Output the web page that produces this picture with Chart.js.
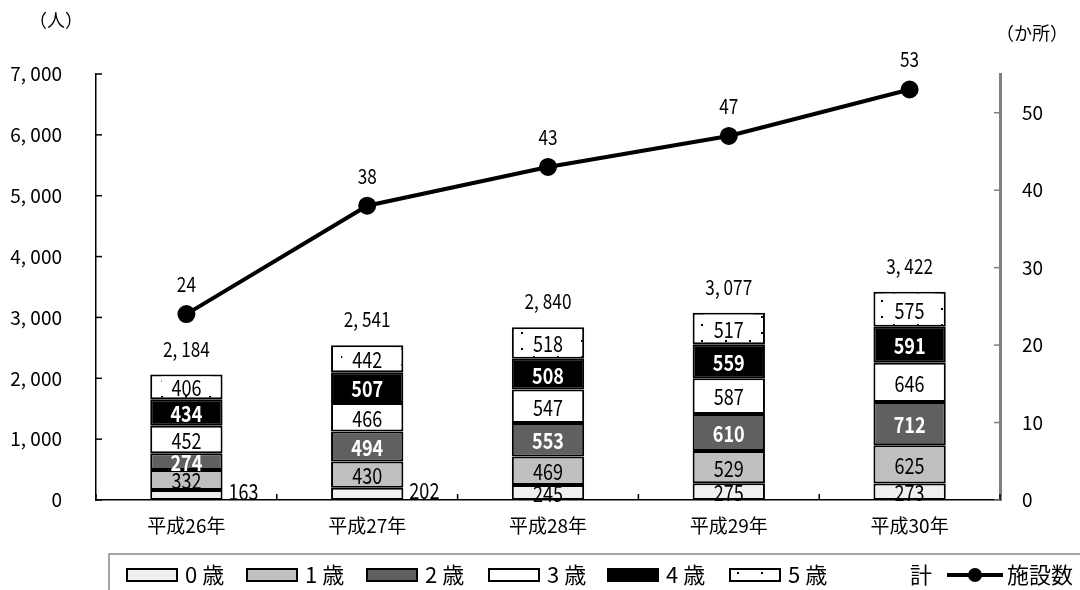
<!DOCTYPE html>
<html>
<head>
<meta charset="utf-8">
<script src="https://cdn.jsdelivr.net/npm/chart.js@4.4.1/dist/chart.umd.min.js"></script>
<style>
  html, body { margin: 0; padding: 0; background: #fff; }
  #wrap { width: 1080px; height: 590px; }
</style>
</head>
<body>
<div id="wrap"><canvas id="chart" width="1080" height="590"></canvas></div>
<script>
const years = ["平成26年", "平成27年", "平成28年", "平成29年", "平成30年"];
const age0 = [163, 202, 245, 275, 273];
const age1 = [332, 430, 469, 529, 625];
const age2 = [274, 494, 553, 610, 712];
const age3 = [452, 466, 547, 587, 646];
const age4 = [434, 507, 508, 559, 591];
const age5 = [406, 442, 518, 517, 575];
const totals = [2184, 2541, 2840, 3077, 3422];
const facilities = [24, 38, 43, 47, 53];

const numFont = "'Noto Sans CJK JP', sans-serif";
const jpFont = "'Noto Sans CJK JP', sans-serif";

// dotted fill for 5歳
function dotPattern() {
  const c = document.createElement("canvas");
  c.width = 24; c.height = 16;
  const g = c.getContext("2d");
  g.fillStyle = "#fff";
  g.fillRect(0, 0, 24, 16);
  g.fillStyle = "#000";
  g.fillRect(5, 4, 2, 2);
  g.fillRect(17, 12, 2, 2);
  return g.createPattern(c, "repeat");
}
const dots = dotPattern();

const fmt = (v) => v >= 1000 ? `${Math.floor(v / 1000)}, ${String(v % 1000).padStart(3, "0")}` : String(v);

// narrow digits like the original
function narrowText(ctx, txt, x, y, align) {
  ctx.save();
  ctx.translate(x, y);
  ctx.scale(0.82, 1);
  ctx.textAlign = align;
  ctx.fillText(txt, 0, 0);
  ctx.restore();
}

const barStyle = (label, data, fill) => ({
  type: "bar",
  label: label,
  data: data,
  backgroundColor: fill,
  borderColor: "#000",
  borderWidth: 2,
  borderSkipped: false,
  barPercentage: 0.8,
  categoryPercentage: 0.5,
  stack: "s",
  yAxisID: "y",
  order: 2,
});

const labelColors = [
  { color: "#000", bold: false },
  { color: "#000", bold: false },
  { color: "#fff", bold: true },
  { color: "#000", bold: false },
  { color: "#fff", bold: true },
  { color: "#000", bold: false },
];

const extras = {
  id: "extras",
  afterDatasetsDraw(chart) {
    const ctx = chart.ctx;
    const x = chart.scales.x, y = chart.scales.y, y2 = chart.scales.y2;
    const area = chart.chartArea;
    ctx.save();
    ctx.textBaseline = "middle";

    // segment labels
    for (let i = 0; i < 6; i++) {
      const meta = chart.getDatasetMeta(i);
      const ds = chart.data.datasets[i];
      meta.data.forEach((bar, j) => {
        const v = ds.data[j];
        const st = labelColors[i];
        ctx.font = (st.bold ? "bold " : "") + "22px " + numFont;
        const cy = (bar.y + bar.base) / 2 + 1;
        const txt = String(v);
        if (i === 0 && v < 220) {
          ctx.fillStyle = "#000";
          narrowText(ctx, txt, bar.x + bar.width / 2 + 6, cy - 4, "left");
          return;
        }
        if (i === 5) {
          const w = ctx.measureText(txt).width * 0.82 + 20;
          const h = bar.base - bar.y - 8;
          ctx.fillStyle = "#fff";
          ctx.fillRect(bar.x - w / 2, bar.y + 2, w, h);
        }
        ctx.fillStyle = st.color;
        narrowText(ctx, txt, bar.x, cy, "center");
      });
    }

    // totals above bars
    const top = chart.getDatasetMeta(5);
    ctx.font = "21px " + numFont;
    ctx.fillStyle = "#000";
    top.data.forEach((bar, j) => {
      narrowText(ctx, fmt(totals[j]), bar.x, bar.y - 26, "center");
    });

    // facility labels
    const lm = chart.getDatasetMeta(6);
    lm.data.forEach((pt, j) => {
      narrowText(ctx, String(facilities[j]), pt.x, pt.y - 30, "center");
    });

    // inward ticks
    ctx.lineWidth = 1.5;
    ctx.strokeStyle = "#000";
    y.ticks.forEach((t) => {
      const py = y.getPixelForValue(t.value);
      ctx.beginPath(); ctx.moveTo(area.left, py); ctx.lineTo(area.left + 6, py); ctx.stroke();
    });
    const step = x.getPixelForValue(1) - x.getPixelForValue(0);
    for (let k = 0; k <= years.length; k++) {
      const px = x.getPixelForValue(k) - step / 2;
      ctx.beginPath(); ctx.moveTo(px, area.bottom); ctx.lineTo(px, area.bottom - 6); ctx.stroke();
    }
    ctx.strokeStyle = "#808080";
    y2.ticks.forEach((t) => {
      const py = y2.getPixelForValue(t.value);
      ctx.beginPath(); ctx.moveTo(area.right, py); ctx.lineTo(area.right - 6, py); ctx.stroke();
    });

    // axis units
    ctx.fillStyle = "#000";
    ctx.font = "18px " + jpFont;
    ctx.textAlign = "center";
    ctx.fillText("（人）", 56, 20);
    ctx.fillText("（か所）", 1032, 33);

    // legend
    ctx.strokeStyle = "#888";
    ctx.lineWidth = 1.5;
    ctx.beginPath();
    ctx.moveTo(109, 592); ctx.lineTo(109, 554); ctx.lineTo(1082, 554);
    ctx.stroke();
    const ly = 575;
    const fills = chart.data.datasets.slice(0, 6).map((d) => d.backgroundColor);
    const boxX = [127, 247, 367, 489, 608, 730];
    ctx.font = "22px " + jpFont;
    ctx.textAlign = "left";
    for (let i = 0; i < 6; i++) {
      ctx.fillStyle = fills[i];
      ctx.fillRect(boxX[i], ly - 6, 50, 12);
      ctx.strokeStyle = "#000";
      ctx.lineWidth = 2;
      ctx.strokeRect(boxX[i], ly - 6, 50, 12);
      ctx.fillStyle = "#000";
      ctx.fillText(chart.data.datasets[i].label, boxX[i] + 58, ly);
    }
    ctx.fillText("計", 910, ly);
    ctx.lineWidth = 4;
    ctx.beginPath(); ctx.moveTo(947, ly); ctx.lineTo(1003, ly); ctx.stroke();
    ctx.beginPath(); ctx.arc(975, ly, 7, 0, Math.PI * 2); ctx.fill();
    ctx.fillText("施設数", 1007, ly);
    ctx.restore();
  },
};

new Chart(document.getElementById("chart"), {
  data: {
    labels: years,
    datasets: [
      barStyle("0 歳", age0, "#f0f0f0"),
      barStyle("1 歳", age1, "#c0c0c0"),
      barStyle("2 歳", age2, "#606060"),
      barStyle("3 歳", age3, "#ffffff"),
      barStyle("4 歳", age4, "#000000"),
      barStyle("5 歳", age5, dots),
      {
        type: "line",
        label: "施設数",
        data: facilities,
        yAxisID: "y2",
        borderColor: "#000",
        borderWidth: 4,
        pointRadius: 7,
        pointBackgroundColor: "#000",
        pointBorderColor: "#000",
        tension: 0,
        order: 1,
      },
    ],
  },
  options: {
    responsive: false,
    animation: false,
    devicePixelRatio: 1,
    layout: { padding: { top: 74, bottom: 50, left: 0, right: 0 } },
    plugins: { legend: { display: false }, tooltip: { enabled: false } },
    scales: {
      x: {
        stacked: true,
        grid: { display: false },
        border: { color: "#000", width: 1.5 },
        ticks: { color: "#000", font: { size: 19, family: jpFont }, padding: 6 },
        afterFit: (s) => { s.height = 40; },
      },
      y: {
        stacked: true,
        position: "left",
        min: 0,
        max: 7000,
        grid: { display: false },
        border: { color: "#000", width: 1.5 },
        ticks: { stepSize: 1000, color: "#000", padding: 26, font: { size: 19, family: numFont }, callback: (v) => fmt(v) },
        afterFit: (s) => { s.width = 96; },
      },
      y2: {
        position: "right",
        min: 0,
        max: 55,
        grid: { display: false },
        border: { color: "#808080", width: 3 },
        ticks: { stepSize: 10, color: "#000", padding: 14, font: { size: 19, family: numFont } },
        afterBuildTicks: (s) => { s.ticks = s.ticks.filter((t) => t.value % 10 === 0); },
        afterFit: (s) => { s.width = 80; },
      },
    },
  },
  plugins: [extras],
});
</script>
</body>
</html>
